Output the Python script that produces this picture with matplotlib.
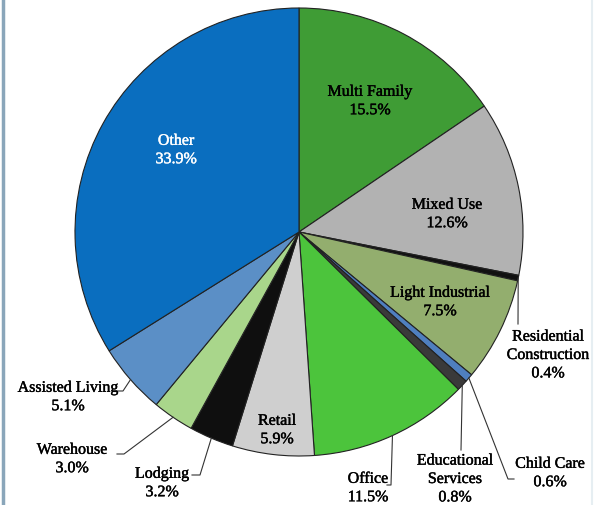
import numpy as np
import matplotlib
matplotlib.use("Agg")
from matplotlib import pyplot as plt
from matplotlib import patheffects as pe

# building types, clockwise from 12 o'clock
labels = ['Multi Family', 'Mixed Use', 'Residential\nConstruction', 'Light Industrial',
          'Child Care', 'Educational\nServices', 'Office', 'Retail', 'Lodging',
          'Warehouse', 'Assisted Living', 'Other']
shares = [15.5, 12.6, 0.4, 7.5, 0.6, 0.8, 11.5, 5.9, 3.2, 3.0, 5.1, 33.9]
colors = ['#3f9c35', '#b2b2b2', '#111111', '#93ae6e', '#4f7fbf', '#3a3a3a',
          '#4cc43c', '#cfcfcf', '#0f0f0f', '#a9d68b', '#5b8fc6', '#0a6ebf']

W, H = 597, 506
fig = plt.figure(figsize=(W / 100, H / 100), dpi=100)
ax = fig.add_axes([0, 0, 1, 1])

cx, cy, R = 299, H - 233, 224
wedges, _ = ax.pie(shares, colors=colors, startangle=90, counterclock=False,
                   center=(cx, cy), radius=R, frame=True,
                   wedgeprops=dict(edgecolor='#222222', linewidth=0.8))
ax.set_xlim(0, W)
ax.set_ylim(0, H)
ax.axis('off')

font = dict(family='Liberation Serif', fontsize=11.5, ha='center', va='center')

# label position (pixels from top-left) and leader path; None = inside the slice
place = {
    'Multi Family': ((370, 102), None),
    'Mixed Use': ((447, 215), None),
    'Residential\nConstruction': ((548, 356), [(518, 325)]),
    'Light Industrial': ((440, 303), None),
    'Child Care': ((550, 474), [(508, 480), (514, 480)]),
    'Educational\nServices': ((455, 480), [(461, 451)]),
    'Office': ((368, 489), [(391, 486), (387, 486)]),
    'Retail': ((277, 431), None),
    'Lodging': ((162, 484), [(200, 476), (192, 476)]),
    'Warehouse': ((72, 460), [(124, 455), (117, 455)]),
    'Assisted Living': ((68, 398), [(123, 392), (116, 392)]),
    'Other': ((176, 151), None),
}

for w, lab, val in zip(wedges, labels, shares):
    (tx, ty), path = place[lab]
    txt = f'{lab}\n{val:.1f}%'
    col = 'white' if lab == 'Other' else 'black'
    ax.text(tx, H - ty, txt, color=col, linespacing=1.2,
            path_effects=[pe.withStroke(linewidth=0.3, foreground=col)], **font)
    if path:
        mid = np.deg2rad((w.theta1 + w.theta2) / 2)
        xs = [cx + R * np.cos(mid)] + [p[0] for p in path]
        ys = [cy + R * np.sin(mid)] + [H - p[1] for p in path]
        ax.plot(xs, ys, color='#333333', lw=0.8)

# side frame lines
ax.plot([3, 3], [0, H], color='#8aa6ba', lw=2.5)
ax.plot([592, 592], [0, H], color='#e6eef2', lw=1.5)

fig.savefig('out.png', dpi=100)
